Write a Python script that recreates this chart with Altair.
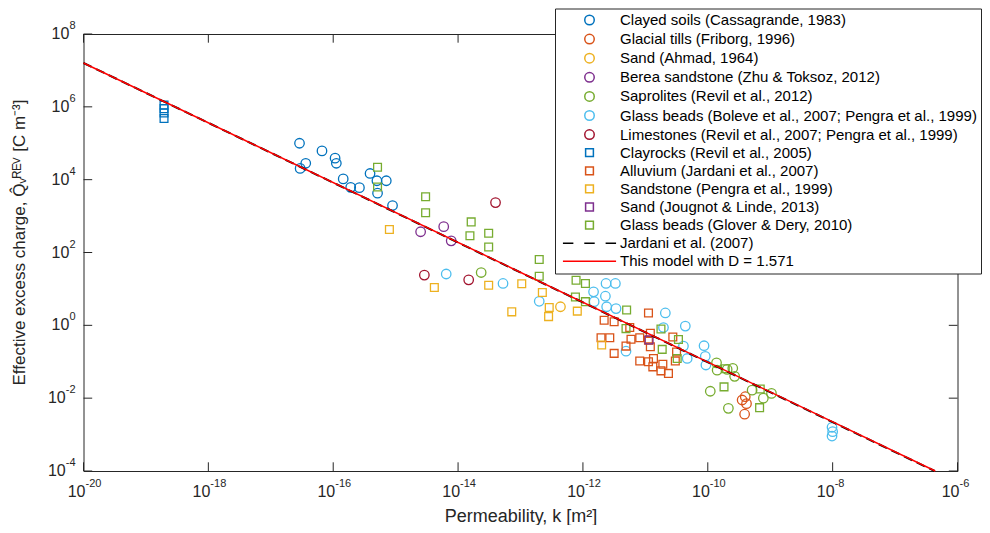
import math
import altair as alt
import pandas as pd

# ---------------- data (log10 of values) ----------------
SERIES = [
    "Clayed soils (Cassagrande, 1983)",
    "Glacial tills (Friborg, 1996)",
    "Sand (Ahmad, 1964)",
    "Berea sandstone (Zhu & Toksoz, 2012)",
    "Saprolites (Revil et al., 2012)",
    "Glass beads (Boleve et al., 2007; Pengra et al., 1999)",
    "Limestones (Revil et al., 2007; Pengra et al., 1999)",
    "Clayrocks (Revil et al., 2005)",
    "Alluvium (Jardani et al., 2007)",
    "Sandstone (Pengra et al., 1999)",
    "Sand (Jougnot & Linde, 2013)",
    "Glass beads (Glover & Dery, 2010)",
    "Jardani et al. (2007)",
    "This model with D = 1.571",
]

CLAYED_SOILS_LOGK = [-16.54, -16.18, -15.97, -15.95, -16.44, -16.53, -15.84, -15.72, -15.58, -15.41, -15.30, -15.15, -15.29, -15.05]
CLAYED_SOILS_LOGQ = [5.00, 4.79, 4.59, 4.45, 4.45, 4.31, 4.02, 3.79, 3.78, 4.17, 3.97, 3.97, 3.63, 3.29]

GLACIAL_TILLS_LOGK = [-9.40, -9.45, -9.38, -9.41]
GLACIAL_TILLS_LOGQ = [-1.96, -2.05, -2.15, -2.44]

SAND_AHMAD_LOGK = [-12.36]
SAND_AHMAD_LOGQ = [0.51]

BEREA_LOGK = [-14.60, -14.23, -14.11]
BEREA_LOGQ = [2.57, 2.71, 2.32]

SAPROLITES_LOGK = [-13.63, -9.86, -9.85, -9.69, -9.60, -9.57, -9.96, -9.67, -9.29, -9.11, -8.98]
SAPROLITES_LOGQ = [1.45, -1.03, -1.23, -1.21, -1.18, -1.40, -1.81, -2.28, -1.78, -2.00, -1.87]

GLASS_BOLEVE_LOGK = [-14.19, -13.28, -12.70, -11.63, -11.48, -11.83, -11.64, -11.82, -11.62, -11.47, -11.31,
                     -10.68, -10.71, -10.36, -10.39, -10.33, -10.06, -10.04, -10.03, -8.01, -8.00, -8.01]
GLASS_BOLEVE_LOGQ = [1.41, 1.15, 0.66, 1.15, 1.15, 0.92, 0.80, 0.65, 0.51, 0.46, -0.71,
                     0.34, -0.06, -0.02, -0.57, -0.91, -0.56, -0.85, -1.09, -2.80, -2.92, -3.04]

LIMESTONES_LOGK = [-13.40, -14.54, -13.83]
LIMESTONES_LOGQ = [3.37, 1.38, 1.25]

CLAYROCKS_LOGK = [-18.71, -18.71, -18.71, -18.71]
CLAYROCKS_LOGQ = [6.05, 5.95, 5.83, 5.68]

ALLUVIUM_LOGK = [-10.95, -11.66, -11.50, -11.25, -11.71, -11.57, -11.50, -11.31, -11.23, -11.09, -10.95, -10.92,
                 -10.92, -10.56, -10.50, -11.09, -10.95, -10.87, -10.88, -10.72, -10.75, -10.63, -10.52]
ALLUVIUM_LOGQ = [0.34, 0.14, 0.10, -0.06, -0.34, -0.34, -0.77, -0.57, -0.38, -0.34, -0.41, -0.59,
                 -0.22, -0.32, -0.73, -0.98, -1.00, -0.91, -1.14, -1.07, -1.25, -1.32, -0.98]

SANDSTONE_LOGK = [-15.10, -14.38, -13.51, -12.98, -12.65, -13.14, -12.54, -12.55, -12.09, -11.70]
SANDSTONE_LOGQ = [2.63, 1.04, 1.10, 1.14, 0.90, 0.37, 0.49, 0.24, 0.39, -0.54]

JOUGNOT_LOGK = [-10.94]
JOUGNOT_LOGQ = [-0.40]

GLOVER_LOGK = [-15.29, -15.29, -14.52, -14.52, -13.79, -13.81, -13.51, -13.51, -12.70, -12.70, -12.11, -11.96,
               -12.12, -11.96, -11.30, -11.31, -10.75, -10.73, -10.47, -10.49, -9.74, -9.16, -9.17, -9.72]
GLOVER_LOGQ = [4.34, 3.80, 3.53, 3.09, 2.84, 2.46, 2.53, 2.15, 1.81, 1.35, 1.24, 1.15,
               0.78, 0.65, 0.42, -0.09, -0.10, -0.66, -0.39, -0.91, -1.69, -1.75, -2.26, -1.19]

JARDANI_K = [1e-20, 4.3e-7]
JARDANI_Q = [1.6e7, 1e-4]
MODEL_K = [1e-20, 4.4e-7]
MODEL_Q = [1.6e7, 1e-4]

X_TICKS = [1e-20, 1e-18, 1e-16, 1e-14, 1e-12, 1e-10, 1e-8, 1e-6]
X_TICK_EXP = ["-20", "-18", "-16", "-14", "-12", "-10", "-8", "-6"]
Y_TICKS = [1e-4, 1e-2, 1e0, 1e2, 1e4, 1e6, 1e8]
Y_TICK_EXP = ["-4", "-2", "0", "2", "4", "6", "8"]
TICK_BASE = "10"

# ---------------- styles ----------------
COLORS = ["#0072BD", "#D95319", "#EDB120", "#7E2F8E", "#77AC30", "#4DBEEE", "#A2142F",
          "#0072BD", "#D95319", "#EDB120", "#7E2F8E", "#77AC30", "#000000", "#FF0000"]
SQUARE = "M-0.82,-0.82L0.82,-0.82L0.82,0.82L-0.82,0.82Z"
DASH_SYM = "M-5.6,0L-3.4,0M-1.1,0L1.1,0M3.4,0L5.6,0"
LINE_SYM = "M-5.6,0L5.6,0"
SHAPES = ["circle"] * 7 + [SQUARE] * 5 + [DASH_SYM, LINE_SYM]

W, H = 874, 437
TICK = 8.7
AX = "#262626"
FONT = "Liberation Sans"
BASE_FS = 16
EXP_FS = 11

point_sets = [
    (CLAYED_SOILS_LOGK, CLAYED_SOILS_LOGQ), (GLACIAL_TILLS_LOGK, GLACIAL_TILLS_LOGQ),
    (SAND_AHMAD_LOGK, SAND_AHMAD_LOGQ), (BEREA_LOGK, BEREA_LOGQ), (SAPROLITES_LOGK, SAPROLITES_LOGQ),
    (GLASS_BOLEVE_LOGK, GLASS_BOLEVE_LOGQ), (LIMESTONES_LOGK, LIMESTONES_LOGQ),
    (CLAYROCKS_LOGK, CLAYROCKS_LOGQ), (ALLUVIUM_LOGK, ALLUVIUM_LOGQ), (SANDSTONE_LOGK, SANDSTONE_LOGQ),
    (JOUGNOT_LOGK, JOUGNOT_LOGQ), (GLOVER_LOGK, GLOVER_LOGQ),
]
rows = []
for name, (lk, lq) in zip(SERIES, point_sets):
    for a, b in zip(lk, lq):
        rows.append({"series": name, "k": 10 ** a, "q": 10 ** b})
points_df = pd.DataFrame(rows)

jardani_df = pd.DataFrame({"k": JARDANI_K, "q": JARDANI_Q})
model_df = pd.DataFrame({"k": MODEL_K, "q": MODEL_Q})
xt_df = pd.DataFrame({"k": X_TICKS, "exp": X_TICK_EXP, "base": TICK_BASE})
yt_df = pd.DataFrame({"q": Y_TICKS, "exp": Y_TICK_EXP, "base": TICK_BASE})

xscale = alt.Scale(type="log", domain=[1e-20, 1e-6], nice=False)
yscale = alt.Scale(type="log", domain=[1e-4, 1e8], nice=False)

x_axis = alt.Axis(values=X_TICKS, labels=False, title="Permeability, k [m²]",
                  grid=False, ticks=False, tickSize=0, domain=False,
                  titleFont=FONT, titleFontSize=18, titleFontWeight="normal",
                  titleColor=AX, titlePadding=36)
y_axis = alt.Axis(values=Y_TICKS, labels=False,
                  title="Effective excess charge, Q̂ᵥᴿᴱⱽ [C m⁻³]",
                  grid=False, ticks=False, tickSize=0, domain=False,
                  titleFont=FONT, titleFontSize=17, titleFontWeight="normal",
                  titleColor=AX, titlePadding=55, titleY=208)

legend = alt.Legend(title=None, orient="none", legendX=471.5, legendY=-25.5, fillColor="white",
                    strokeColor=AX, padding=4, labelFont=FONT, labelFontSize=15, labelColor="#000000",
                    labelLimit=600, symbolSize=90, symbolStrokeWidth=1.5, rowPadding=2.1,
                    symbolOffset=23, labelOffset=23, cornerRadius=0)

color_scale = alt.Scale(domain=SERIES, range=COLORS)
shape_scale = alt.Scale(domain=SERIES, range=SHAPES)

X = alt.X("k:Q", scale=xscale, axis=x_axis)
Y = alt.Y("q:Q", scale=yscale, axis=y_axis)

points = alt.Chart(points_df).mark_point(filled=False, size=90, strokeWidth=1.3, opacity=1).encode(
    x=X, y=Y,
    color=alt.Color("series:N", scale=color_scale, legend=legend, sort=SERIES),
    shape=alt.Shape("series:N", scale=shape_scale, legend=legend, sort=SERIES),
)

jardani = alt.Chart(jardani_df).mark_line(color="#000000", strokeDash=[9, 5], strokeWidth=2).encode(x=X, y=Y)
model = alt.Chart(model_df).mark_line(color="#FF0000", strokeWidth=1.5).encode(x=X, y=Y)

# inward ticks on all four sides
tb = alt.Chart(xt_df).mark_rule(color=AX, strokeWidth=1)
ticks_bottom = tb.encode(x=X, y=alt.value(H), y2=alt.value(H - TICK))
ticks_top = tb.encode(x=X, y=alt.value(0), y2=alt.value(TICK))
tl = alt.Chart(yt_df).mark_rule(color=AX, strokeWidth=1)
ticks_left = tl.encode(y=Y, x=alt.value(0), x2=alt.value(TICK))
ticks_right = tl.encode(y=Y, x=alt.value(W), x2=alt.value(W - TICK))

# tick labels "10" with a raised exponent
xl = alt.Chart(xt_df)
x_base = xl.mark_text(align="right", baseline="top", fontSize=BASE_FS, font=FONT, color=AX, dx=2).encode(
    x=X, y=alt.value(H + 13), text="base:N")
x_exp = xl.mark_text(align="left", baseline="top", fontSize=EXP_FS, font=FONT, color=AX, dx=2).encode(
    x=X, y=alt.value(H + 7), text="exp:N")

yl = alt.Chart(yt_df).transform_calculate(
    bx="-8 - (length(datum.exp) * 6.12 - (indexof(datum.exp, '-') == 0 ? 2.45 : 0))")
y_exp = yl.mark_text(align="right", baseline="middle", fontSize=EXP_FS, font=FONT, color=AX, dy=-8).encode(
    y=Y, x=alt.value(-8), text="exp:N")
y_base = yl.mark_text(align="right", baseline="middle", fontSize=BASE_FS, font=FONT, color=AX, dy=0).encode(
    y=Y, x=alt.X("bx:Q", scale=None), text="base:N")

chart = alt.layer(points, jardani, model, ticks_bottom, ticks_top, ticks_left, ticks_right,
                  x_base, x_exp, y_base, y_exp).properties(
    width=W, height=H,
    autosize=alt.AutoSizeParams(type="none"),
    padding={"left": 75.5, "top": 26, "right": 24, "bottom": 54},
    background="white",
).configure_view(stroke=AX, strokeWidth=1)

chart.save("out.html", embed_options={"renderer": "svg", "actions": False})
